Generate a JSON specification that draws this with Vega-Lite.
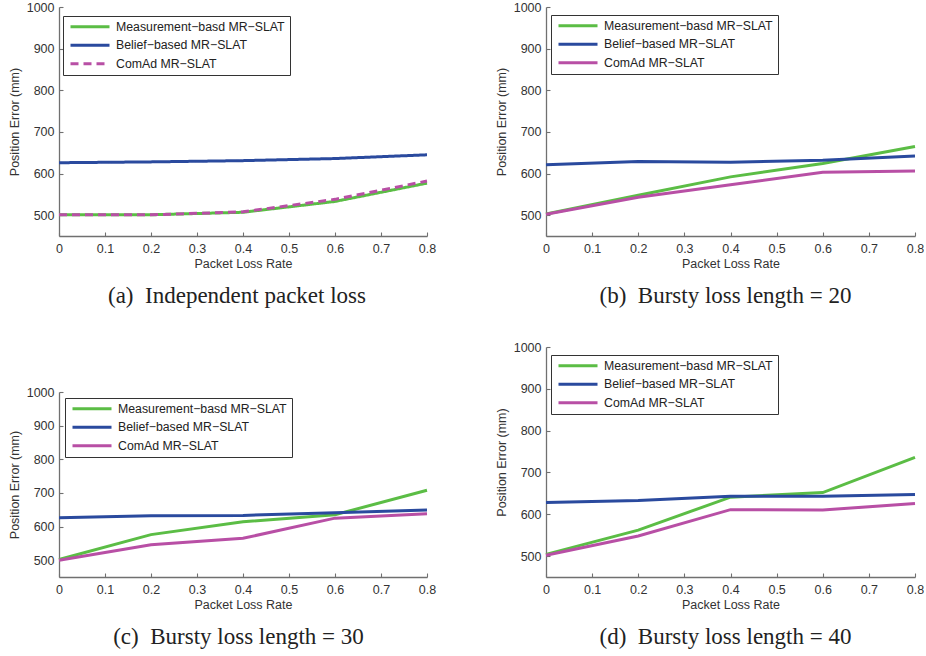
{
  "$schema": "https://vega.github.io/schema/vega-lite/v6.json",
  "padding": {"left": 8, "top": 1, "right": 0, "bottom": 0},
  "background": "white",
  "datasets": {
    "main": [
      {"panel": "a", "series": "Measurement−basd MR−SLAT", "x": 0, "y": 501},
      {"panel": "a", "series": "Measurement−basd MR−SLAT", "x": 0.2, "y": 501},
      {"panel": "a", "series": "Measurement−basd MR−SLAT", "x": 0.4, "y": 507},
      {"panel": "a", "series": "Measurement−basd MR−SLAT", "x": 0.6, "y": 533},
      {"panel": "a", "series": "Measurement−basd MR−SLAT", "x": 0.8, "y": 577},
      {"panel": "a", "series": "Belief−based MR−SLAT", "x": 0, "y": 626},
      {"panel": "a", "series": "Belief−based MR−SLAT", "x": 0.2, "y": 628},
      {"panel": "a", "series": "Belief−based MR−SLAT", "x": 0.4, "y": 631},
      {"panel": "a", "series": "Belief−based MR−SLAT", "x": 0.6, "y": 636},
      {"panel": "a", "series": "Belief−based MR−SLAT", "x": 0.8, "y": 645},
      {"panel": "a", "series": "ComAd MR−SLAT", "x": 0, "y": 501},
      {"panel": "a", "series": "ComAd MR−SLAT", "x": 0.2, "y": 501},
      {"panel": "a", "series": "ComAd MR−SLAT", "x": 0.4, "y": 508},
      {"panel": "a", "series": "ComAd MR−SLAT", "x": 0.6, "y": 538},
      {"panel": "a", "series": "ComAd MR−SLAT", "x": 0.8, "y": 582},

      {"panel": "b", "series": "Measurement−basd MR−SLAT", "x": 0, "y": 503},
      {"panel": "b", "series": "Measurement−basd MR−SLAT", "x": 0.2, "y": 548},
      {"panel": "b", "series": "Measurement−basd MR−SLAT", "x": 0.4, "y": 592},
      {"panel": "b", "series": "Measurement−basd MR−SLAT", "x": 0.6, "y": 624},
      {"panel": "b", "series": "Measurement−basd MR−SLAT", "x": 0.8, "y": 665},
      {"panel": "b", "series": "Belief−based MR−SLAT", "x": 0, "y": 621},
      {"panel": "b", "series": "Belief−based MR−SLAT", "x": 0.2, "y": 629},
      {"panel": "b", "series": "Belief−based MR−SLAT", "x": 0.4, "y": 627},
      {"panel": "b", "series": "Belief−based MR−SLAT", "x": 0.6, "y": 632},
      {"panel": "b", "series": "Belief−based MR−SLAT", "x": 0.8, "y": 642},
      {"panel": "b", "series": "ComAd MR−SLAT", "x": 0, "y": 502},
      {"panel": "b", "series": "ComAd MR−SLAT", "x": 0.2, "y": 543},
      {"panel": "b", "series": "ComAd MR−SLAT", "x": 0.4, "y": 573},
      {"panel": "b", "series": "ComAd MR−SLAT", "x": 0.6, "y": 603},
      {"panel": "b", "series": "ComAd MR−SLAT", "x": 0.8, "y": 606},

      {"panel": "c", "series": "Measurement−basd MR−SLAT", "x": 0, "y": 502},
      {"panel": "c", "series": "Measurement−basd MR−SLAT", "x": 0.2, "y": 576},
      {"panel": "c", "series": "Measurement−basd MR−SLAT", "x": 0.4, "y": 614},
      {"panel": "c", "series": "Measurement−basd MR−SLAT", "x": 0.6, "y": 635},
      {"panel": "c", "series": "Measurement−basd MR−SLAT", "x": 0.8, "y": 708},
      {"panel": "c", "series": "Belief−based MR−SLAT", "x": 0, "y": 626},
      {"panel": "c", "series": "Belief−based MR−SLAT", "x": 0.2, "y": 632},
      {"panel": "c", "series": "Belief−based MR−SLAT", "x": 0.4, "y": 633},
      {"panel": "c", "series": "Belief−based MR−SLAT", "x": 0.6, "y": 641},
      {"panel": "c", "series": "Belief−based MR−SLAT", "x": 0.8, "y": 649},
      {"panel": "c", "series": "ComAd MR−SLAT", "x": 0, "y": 500},
      {"panel": "c", "series": "ComAd MR−SLAT", "x": 0.2, "y": 546},
      {"panel": "c", "series": "ComAd MR−SLAT", "x": 0.4, "y": 565},
      {"panel": "c", "series": "ComAd MR−SLAT", "x": 0.6, "y": 625},
      {"panel": "c", "series": "ComAd MR−SLAT", "x": 0.8, "y": 638},

      {"panel": "d", "series": "Measurement−basd MR−SLAT", "x": 0, "y": 504},
      {"panel": "d", "series": "Measurement−basd MR−SLAT", "x": 0.2, "y": 562},
      {"panel": "d", "series": "Measurement−basd MR−SLAT", "x": 0.4, "y": 641},
      {"panel": "d", "series": "Measurement−basd MR−SLAT", "x": 0.6, "y": 652},
      {"panel": "d", "series": "Measurement−basd MR−SLAT", "x": 0.8, "y": 736},
      {"panel": "d", "series": "Belief−based MR−SLAT", "x": 0, "y": 628},
      {"panel": "d", "series": "Belief−based MR−SLAT", "x": 0.2, "y": 633},
      {"panel": "d", "series": "Belief−based MR−SLAT", "x": 0.4, "y": 643},
      {"panel": "d", "series": "Belief−based MR−SLAT", "x": 0.6, "y": 643},
      {"panel": "d", "series": "Belief−based MR−SLAT", "x": 0.8, "y": 647},
      {"panel": "d", "series": "ComAd MR−SLAT", "x": 0, "y": 502},
      {"panel": "d", "series": "ComAd MR−SLAT", "x": 0.2, "y": 548},
      {"panel": "d", "series": "ComAd MR−SLAT", "x": 0.4, "y": 611},
      {"panel": "d", "series": "ComAd MR−SLAT", "x": 0.6, "y": 610},
      {"panel": "d", "series": "ComAd MR−SLAT", "x": 0.8, "y": 626}
    ]
  },
  "config": {
    "view": {"stroke": null},
    "axis": {
      "grid": false,
      "domainColor": "#707070",
      "domainWidth": 1.3,
      "tickColor": "#707070",
      "tickWidth": 1.1,
      "tickSize": -4,
      "labelPadding": 9,
      "labelFont": "Liberation Sans",
      "labelFontSize": 12.5,
      "labelColor": "#333333",
      "labelFlush": false,
      "labelOverlap": false,
      "titleFont": "Liberation Sans",
      "titleFontSize": 12.5,
      "titleFontWeight": "normal",
      "titleColor": "#333333"
    },
    "axisX": {"labelPadding": 10.5, "titlePadding": 2.5},
    "axisY": {"labelPadding": 9, "titlePadding": 5},
    "legend": {
      "orient": "none",
      "title": null,
      "symbolType": "stroke",
      "symbolSize": 1521,
      "symbolStrokeWidth": 3.5,
      "clipHeight": 12.5,
      "rowPadding": 5.5,
      "padding": 4.5,
      "symbolOffset": 1.5,
      "labelOffset": 5,
      "labelFont": "Liberation Sans",
      "labelFontSize": 12.3,
      "labelColor": "#222222",
      "labelLimit": 0,
      "strokeColor": "#333333",
      "fillColor": "white"
    },
    "title": {
      "orient": "bottom",
      "anchor": "middle",
      "frame": "group",
      "font": "Liberation Serif",
      "fontSize": 23,
      "fontWeight": "normal",
      "color": "#222222",
      "offset": 15
    },
    "line": {"strokeWidth": 3}
  },
  "spacing": 59,
  "resolve": {"scale": {"color": "independent", "strokeDash": "independent", "x": "independent", "y": "independent"}, "legend": {"color": "independent", "strokeDash": "independent"}},
  "hconcat": [
    {
      "bounds": "flush",
      "spacing": 156,
      "resolve": {"scale": {"color": "independent", "strokeDash": "independent", "x": "independent", "y": "independent"}, "legend": {"color": "independent", "strokeDash": "independent"}},
      "vconcat": [
        {
          "width": 368,
          "height": 229,
          "data": {"name": "main"},
          "title": {"text": "(a)\u2002Independent packet loss", "dx": -6},
          "transform": [{"filter": "datum.panel === 'a'"}],
          "encoding": {
            "x": {"field": "x", "type": "quantitative", "scale": {"domain": [0, 0.8], "nice": false}, "axis": {"values": [0, 0.1, 0.2, 0.3, 0.4, 0.5, 0.6, 0.7, 0.8], "format": "~g", "title": "Packet Loss Rate"}},
            "y": {"field": "y", "type": "quantitative", "scale": {"domain": [450, 1000], "nice": false, "zero": false}, "axis": {"values": [500, 600, 700, 800, 900, 1000], "format": "d", "title": "Position Error (mm)"}},
            "color": {"field": "series", "type": "nominal", "scale": {"domain": ["Measurement−basd MR−SLAT", "Belief−based MR−SLAT", "ComAd MR−SLAT"], "range": ["#5bbd45", "#2a4a9e", "#b84fa5"]}, "legend": {"legendX": 4, "legendY": 9}},
            "strokeDash": {"field": "series", "type": "nominal", "scale": {"domain": ["Measurement−basd MR−SLAT", "Belief−based MR−SLAT", "ComAd MR−SLAT"], "range": [[1, 0], [1, 0], [8, 5]]}, "legend": {"legendX": 4, "legendY": 9}}
          },
          "layer": [
            {"transform": [{"filter": "datum.series !== 'ComAd MR−SLAT'"}], "mark": {"type": "line"}},
            {"transform": [{"filter": "datum.series === 'ComAd MR−SLAT'"}], "mark": {"type": "line"}}
          ]
        },
        {
          "width": 368,
          "height": 185,
          "data": {"name": "main"},
          "title": {"text": "(c)\u2002Bursty loss length = 30", "dx": -4.5},
          "transform": [{"filter": "datum.panel === 'c'"}],
          "encoding": {
            "x": {"field": "x", "type": "quantitative", "scale": {"domain": [0, 0.8], "nice": false}, "axis": {"values": [0, 0.1, 0.2, 0.3, 0.4, 0.5, 0.6, 0.7, 0.8], "format": "~g", "title": "Packet Loss Rate"}},
            "y": {"field": "y", "type": "quantitative", "scale": {"domain": [450, 1000], "nice": false, "zero": false}, "axis": {"values": [500, 600, 700, 800, 900, 1000], "format": "d", "title": "Position Error (mm)"}},
            "color": {"field": "series", "type": "nominal", "scale": {"domain": ["Measurement−basd MR−SLAT", "Belief−based MR−SLAT", "ComAd MR−SLAT"], "range": ["#5bbd45", "#2a4a9e", "#b84fa5"]}, "legend": {"legendX": 6, "legendY": 6}}
          },
          "layer": [
            {"transform": [{"filter": "datum.series !== 'ComAd MR−SLAT'"}], "mark": {"type": "line"}},
            {"transform": [{"filter": "datum.series === 'ComAd MR−SLAT'"}], "mark": {"type": "line"}}
          ]
        }
      ]
    },
    {
      "bounds": "flush",
      "spacing": 111,
      "resolve": {"scale": {"color": "independent", "strokeDash": "independent", "x": "independent", "y": "independent"}, "legend": {"color": "independent", "strokeDash": "independent"}},
      "vconcat": [
        {
          "width": 369,
          "height": 229,
          "data": {"name": "main"},
          "title": {"text": "(b)\u2002Bursty loss length = 20", "dx": -5},
          "transform": [{"filter": "datum.panel === 'b'"}],
          "encoding": {
            "x": {"field": "x", "type": "quantitative", "scale": {"domain": [0, 0.8], "nice": false}, "axis": {"values": [0, 0.1, 0.2, 0.3, 0.4, 0.5, 0.6, 0.7, 0.8], "format": "~g", "title": "Packet Loss Rate"}},
            "y": {"field": "y", "type": "quantitative", "scale": {"domain": [450, 1000], "nice": false, "zero": false}, "axis": {"values": [500, 600, 700, 800, 900, 1000], "format": "d", "title": "Position Error (mm)"}},
            "color": {"field": "series", "type": "nominal", "scale": {"domain": ["Measurement−basd MR−SLAT", "Belief−based MR−SLAT", "ComAd MR−SLAT"], "range": ["#5bbd45", "#2a4a9e", "#b84fa5"]}, "legend": {"legendX": 5, "legendY": 8}}
          },
          "layer": [
            {"transform": [{"filter": "datum.series !== 'ComAd MR−SLAT'"}], "mark": {"type": "line"}},
            {"transform": [{"filter": "datum.series === 'ComAd MR−SLAT'"}], "mark": {"type": "line"}}
          ]
        },
        {
          "width": 369,
          "height": 230,
          "data": {"name": "main"},
          "title": {"text": "(d)\u2002Bursty loss length = 40", "dx": -5},
          "transform": [{"filter": "datum.panel === 'd'"}],
          "encoding": {
            "x": {"field": "x", "type": "quantitative", "scale": {"domain": [0, 0.8], "nice": false}, "axis": {"values": [0, 0.1, 0.2, 0.3, 0.4, 0.5, 0.6, 0.7, 0.8], "format": "~g", "title": "Packet Loss Rate"}},
            "y": {"field": "y", "type": "quantitative", "scale": {"domain": [450, 1000], "nice": false, "zero": false}, "axis": {"values": [500, 600, 700, 800, 900, 1000], "format": "d", "title": "Position Error (mm)"}},
            "color": {"field": "series", "type": "nominal", "scale": {"domain": ["Measurement−basd MR−SLAT", "Belief−based MR−SLAT", "ComAd MR−SLAT"], "range": ["#5bbd45", "#2a4a9e", "#b84fa5"]}, "legend": {"legendX": 5, "legendY": 8}}
          },
          "layer": [
            {"transform": [{"filter": "datum.series !== 'ComAd MR−SLAT'"}], "mark": {"type": "line"}},
            {"transform": [{"filter": "datum.series === 'ComAd MR−SLAT'"}], "mark": {"type": "line"}}
          ]
        }
      ]
    }
  ]
}
